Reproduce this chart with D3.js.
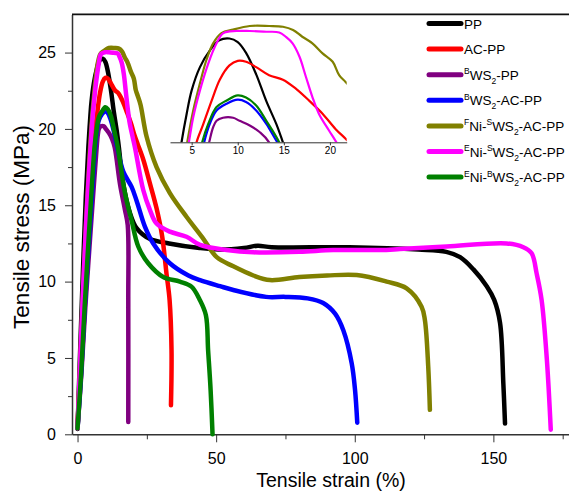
<!DOCTYPE html>
<html>
<head>
<meta charset="utf-8">
<script src="https://cdn.jsdelivr.net/npm/d3@7"></script>
<style>
body { margin: 0; background: #fff; }
svg { font-family: Arial, "Liberation Sans", sans-serif; }
.curve { fill: none; stroke-linejoin: round; stroke-linecap: round; }
.axis path, .axis line { stroke: #333; }
.axis text { fill: #000; }
</style>
</head>
<body>
<svg id="chart" width="569" height="493"></svg>
<script>
// strain (%) , stress (MPa)
var ppCurve = [[0,0.35],[1,5.8],[2,11],[3,15.6],[3.9,18.8],[4.46,20.4],[5,21.7],[5.9,23],[7,23.95],[8,24.5],[9.1,24.6],[10,24.4],[10.9,23.8],[12,22.6],[13.1,21.1],[14.2,19.8],[14.9,18.8],[16.5,16.4],[18.9,14.5],[21.3,13.5],[26,12.8],[33,12.5],[44,12.2],[51,12.1],[60,12.2],[65,12.35],[70,12.25],[98,12.25],[123,12.1],[133,11.95],[138,11.6],[142.8,10.8],[147.6,9.7],[150.3,8.8],[152.4,7.3],[153.6,3.3],[154.2,0.7]];
var acCurve = [[0,0.4],[1,4.5],[2,8.5],[3,12],[4,15],[5,17.5],[5.53,18.8],[6.25,19.8],[7.15,21.1],[8.05,22.3],[9.1,23.1],[10,23.35],[10.9,23.3],[12,23],[13.4,22.55],[14.9,22.3],[16.3,21.8],[17.8,21.1],[19.2,20.4],[20.6,19.55],[21.7,19],[23.7,18],[26,16.5],[28.5,14.8],[30.5,13],[32.1,10.5],[33.2,8.8],[33.9,5.5],[33.7,1.9]];
var bws2Curve = [[0,0.4],[1.4,4],[2.8,8.3],[4.2,12],[5.6,15.6],[6.9,18.8],[7.33,19.64],[7.7,20],[8.4,20.17],[9.5,20.17],[10.2,20],[11.3,19.74],[12.4,19.36],[13.4,18.8],[15.3,16.4],[17.1,14.7],[18.1,13.7],[18.3,8.8],[18.3,0.8]];
var bws2AcCurve = [[0,0.4],[1.3,4],[2.6,8.3],[3.9,12],[5.2,15.6],[6.36,18.8],[6.97,19.83],[7.7,20.58],[8.8,20.96],[10,21.18],[10.9,21.05],[12,20.58],[13.1,19.83],[14.3,18.8],[16.5,17.2],[19.5,16.2],[21.3,15.3],[24.3,13.6],[27.3,12.5],[33.3,11.2],[40,10.4],[44.2,10.1],[51.4,9.7],[56.2,9.45],[68,9.0],[75,9.0],[83,8.9],[88.6,8.6],[92.9,7.9],[95.9,6.8],[98.9,4.65],[100.1,2.9],[100.9,0.76]];
var fniCurve = [[0,0.4],[1,5],[2,9.5],[3,13.5],[4,17.1],[4.52,18.8],[5.17,20.58],[5.9,22.1],[6.6,23.4],[7.33,24.33],[8.23,24.9],[9.5,25.1],[11.3,25.3],[13.4,25.3],[14.9,25.26],[16,25.08],[17,24.7],[18.1,24.33],[19.2,23.77],[20.3,23.3],[21,22.55],[21.7,22.17],[22.7,21.6],[24.9,19.5],[28.5,17.5],[33.3,15.8],[39.3,14.25],[45,12.9],[50.2,11.6],[56.2,11],[63.4,10.4],[69.4,10.1],[80,10.3],[90,10.4],[100.7,10.43],[111.5,10],[118.7,9.56],[124.1,8.36],[125.3,7.48],[126.5,4.43],[127.1,1.6]];
var eniSCurve = [[0,0.4],[1,5],[2,9.5],[3,13.5],[4,16.8],[4.7,18.8],[5.17,20.2],[5.9,21.7],[6.8,23.2],[7.7,24.33],[8.4,24.89],[9.85,25.02],[11.3,25.02],[13.1,24.98],[14.5,24.94],[15.2,24.7],[15.95,24.33],[16.7,23.58],[17.4,22.45],[18.1,21.33],[18.8,20.4],[19.9,19.46],[20.7,18.8],[23.7,16],[26.1,14.7],[28.5,13.8],[33.3,13.27],[39.3,12.94],[44.2,12.4],[53.8,12.07],[63.4,11.92],[80,11.95],[92.2,12.07],[109,12.07],[116.3,12.13],[133.2,12.3],[154.8,12.5],[160.8,12.25],[163.8,11.85],[165.6,10.54],[167.4,8.8],[169.3,4.87],[170.7,0.3]];
var eniBCurve = [[0,0.4],[1.3,4],[2.6,8.5],[3.8,12.2],[5,15.8],[6.14,18.8],[6.8,19.83],[7.7,20.77],[8.8,21.14],[10,21.42],[10.9,21.3],[12,20.86],[13.1,20],[14.5,18.8],[17.1,15.8],[19.5,14],[21.9,12.3],[25.5,11.2],[30.9,10.3],[36.9,10],[41.1,9.67],[44.1,8.8],[46.3,7.8],[47.1,5.5],[48,2.9],[48.7,0]];

// legend labels: [text, "sup"|"sub"|undefined]
var seriesLabels = [
  [["PP"]],
  [["AC-PP"]],
  [["B","sup"],["WS"],["2","sub"],["-PP"]],
  [["B","sup"],["WS"],["2","sub"],["-AC-PP"]],
  [["F","sup"],["Ni-"],["S","sup"],["WS"],["2","sub"],["-AC-PP"]],
  [["E","sup"],["Ni-"],["S","sup"],["WS"],["2","sub"],["-AC-PP"]],
  [["E","sup"],["Ni-"],["B","sup"],["WS"],["2","sub"],["-AC-PP"]]
];
var seriesColors = ["#000000","#ff0000","#800080","#0000ff","#808000","#ff00ff","#008000"];
var curves = [ppCurve, acCurve, bws2Curve, bws2AcCurve, fniCurve, eniSCurve, eniBCurve];

var xMajor = [0,50,100,150], xMinor = [25,75,125,175];
var yMajor = [0,5,10,15,20,25], yMinor = [2.5,7.5,12.5,17.5,22.5];
var insetTicks = [5,10,15,20];

var svg = d3.select("#chart");

var x = d3.scaleLinear().domain([-2, 178]).range([72, 571]);
var y = d3.scaleLinear().domain([0, 27.5]).range([434.3, 14.4]);

// axes
svg.append("g").attr("class","axis")
  .attr("transform","translate(0," + y(0) + ")")
  .call(d3.axisBottom(x).tickValues(xMajor).tickSize(8).tickPadding(10).tickSizeOuter(0))
  .call(function(g){ g.select(".domain").attr("stroke-width",1.5); g.selectAll("text").attr("font-size",16).attr("font-family",null); });
svg.append("g").attr("class","axis")
  .attr("transform","translate(0," + y(0) + ")")
  .call(d3.axisBottom(x).tickValues(xMinor).tickSize(5).tickFormat("").tickSizeOuter(0))
  .call(function(g){ g.select(".domain").remove(); });

svg.append("g").attr("class","axis")
  .attr("transform","translate(" + x.range()[0] + ",0)")
  .call(d3.axisLeft(y).tickValues(yMajor).tickSize(7).tickPadding(9).tickSizeOuter(0))
  .call(function(g){ g.select(".domain").attr("stroke-width",1.5); g.selectAll("text").attr("font-size",16).attr("font-family",null); });
svg.append("g").attr("class","axis")
  .attr("transform","translate(" + x.range()[0] + ",0)")
  .call(d3.axisLeft(y).tickValues(yMinor).tickSize(4).tickFormat("").tickSizeOuter(0))
  .call(function(g){ g.select(".domain").remove(); });

// top frame
svg.append("line")
  .attr("x1", x.range()[0]).attr("x2", x.range()[1])
  .attr("y1", y.range()[1]).attr("y2", y.range()[1])
  .attr("stroke","#111").attr("stroke-width",1.8);

// titles
svg.append("text")
  .attr("x", 331).attr("y", 487)
  .attr("text-anchor","middle").attr("font-size",19.5)
  .text("Tensile strain (%)");
svg.append("text")
  .attr("transform","translate(29," + 227 + ") rotate(-90)")
  .attr("text-anchor","middle").attr("font-size",22.5)
  .text("Tensile stress (MPa)");

// main curves
var lineAny = d3.line()
  .x(function(d){ return x(d[0]); })
  .y(function(d){ return y(d[1]); })
  .curve(d3.curveCatmullRom.alpha(0.5));

svg.append("g").selectAll("path")
  .data(curves)
  .join("path")
  .attr("class","curve")
  .attr("stroke", function(d,i){ return seriesColors[i]; })
  .attr("stroke-width", 4.5)
  .attr("d", lineAny);

// inset
var ix = d3.scaleLinear().domain([2.65, 21.82]).range([170, 346.7]);
var iy = d3.scaleLinear().domain([18.8, 25.3]).range([142.3, 26]);

svg.append("clipPath").attr("id","insetClip")
  .append("rect").attr("x",170).attr("y",0).attr("width",176.7).attr("height",142.3);

var insetLine = d3.line()
  .x(function(d){ return ix(d[0]); })
  .y(function(d){ return iy(d[1]); })
  .curve(d3.curveCatmullRom.alpha(0.5));

svg.append("g").attr("clip-path","url(#insetClip)")
  .selectAll("path")
  .data(curves)
  .join("path")
  .attr("class","curve")
  .attr("stroke", function(d,i){ return seriesColors[i]; })
  .attr("stroke-width", 2.2)
  .attr("d", insetLine);

svg.append("g").attr("class","axis")
  .attr("transform","translate(0," + iy(18.8) + ")")
  .call(d3.axisBottom(ix).tickValues(insetTicks).tickSize(3).tickPadding(2).tickSizeOuter(0))
  .call(function(g){ g.select(".domain").attr("stroke","#555"); g.selectAll("line").attr("stroke","#555"); g.selectAll("text").attr("font-size",10).attr("font-family",null); });

// legend
var legend = svg.append("g");
var rows = legend.selectAll("g")
  .data(seriesLabels)
  .join("g")
  .attr("transform", function(d,i){ return "translate(0," + (23.5 + i*25.6) + ")"; });
rows.append("line")
  .attr("x1", 429).attr("x2", 461)
  .attr("stroke", function(d,i){ return seriesColors[i]; })
  .attr("stroke-width", 5).attr("stroke-linecap","round");
rows.each(function(parts){
  var t = d3.select(this).append("text")
    .attr("x", 464).attr("y", 5).attr("font-size", 13.5);
  var shift = 0;
  parts.forEach(function(p){
    var ts = t.append("tspan").text(p[0]);
    var target = p[1] === "sup" ? -5.5 : (p[1] === "sub" ? 4 : 0);
    ts.attr("dy", target - shift);
    if (p[1]) ts.attr("font-size", 8.5);
    shift = target;
  });
});
</script>
</body>
</html>
